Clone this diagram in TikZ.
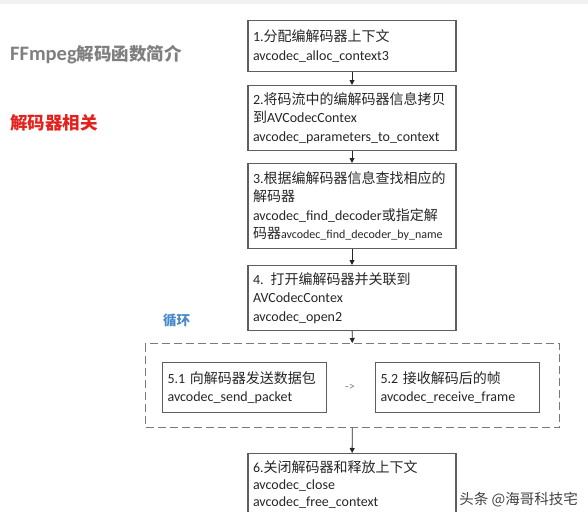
\documentclass[tikz,border=0pt]{standalone}
\usepackage{fontspec}
\setmainfont{Carlito}
\newfontfamily\cjk{Noto Sans CJK SC}
\usetikzlibrary{arrows.meta}
\newcommand\zhtxt[1]{{\cjk #1}}
\definecolor{boxline}{HTML}{5E5E5E}
\definecolor{dashline}{HTML}{7A7A7A}
\definecolor{titlegray}{HTML}{7F7F7F}
\definecolor{redlabel}{HTML}{E3221E}
\definecolor{bluelabel}{HTML}{4A8AC9}
\definecolor{bandgray}{HTML}{F1F1F1}
\begin{document}
\begin{tikzpicture}[x=1pt,y=-1pt,
  stepbox/.style={draw=boxline, line width=1.1pt, anchor=north, text width=198pt,
    align=left, inner xsep=5pt, inner ysep=0pt, text=black!85,
    font=\fontsize{14}{18.5}\selectfont},
  smallbox/.style={draw=boxline, line width=1.1pt, anchor=north west, text width=154pt,
    align=left, inner xsep=5pt, inner ysep=0pt, minimum height=50pt, text=black!85,
    font=\fontsize{14}{18.5}\selectfont},
  loopbox/.style={draw=dashline, line width=1pt, dash pattern=on 8pt off 4pt,
    anchor=north west, minimum width=414pt, minimum height=84pt, inner sep=0pt},
  flow/.style={-{Triangle[length=5pt,width=5pt]}, line width=0.9pt, black!85},
]
\useasboundingbox (0,0) rectangle (588,511);
\fill[bandgray] (0,0) rectangle (588,4);

\node[anchor=west, text=titlegray, inner sep=0pt] (title) at (10,55)
  {\bfseries\fontsize{20.5}{22}\selectfont FFmpeg\zhtxt{\fontsize{17.5}{22}\selectfont 解码函数简介}};
\node[anchor=west, text=redlabel, inner sep=0pt] (dec) at (10,123)
  {\zhtxt{\bfseries\fontsize{17.5}{22}\selectfont 解码器相关}};
\node[anchor=west, text=bluelabel, inner sep=0pt] (loopl) at (163,320)
  {\zhtxt{\bfseries\fontsize{13.5}{16}\selectfont 循环}};

\node[stepbox, minimum height=51pt] (b1) at (352,20)
  {1.\zhtxt{分配编解码器上下文}\\avcodec\_alloc\_context3};
\node[stepbox, minimum height=65pt] (b2) at (352,85)
  {2.\zhtxt{将码流中的编解码器信息拷贝}\\\zhtxt{到}AVCodecContex\\avcodec\_parameters\_to\_context};
\node[stepbox, minimum height=85pt] (b3) at (352,163)
  {3.\zhtxt{根据编解码器信息查找相应的}\\\zhtxt{解码器}\\avcodec\_find\_decoder\zhtxt{或指定解}\\\zhtxt{码器}{\fontsize{12}{18.5}\selectfont avcodec\_find\_decoder\_by\_name}};
\node[stepbox, minimum height=65pt] (b4) at (352,265)
  {4. \zhtxt{打开编解码器并关联到}\\AVCodecContex\\avcodec\_open2};

\node[loopbox] (loop) at (145,343) {};
\node[smallbox] (b51) at (162,362)
  {5.1 \zhtxt{向解码器发送数据包}\\avcodec\_send\_packet};
\node[smallbox] (b52) at (375,362)
  {5.2 \zhtxt{接收解码后的帧}\\avcodec\_receive\_frame};
\node[text=black!50, inner sep=0pt, font=\fontsize{12}{14}\selectfont] (sep) at (350,387) {->};

\node[stepbox, minimum height=62pt, font=\fontsize{14}{17}\selectfont] (b6) at (352,453)
  {6.\zhtxt{关闭解码器和释放上下文}\\avcodec\_close\\avcodec\_free\_context};

\node[anchor=east, text=black!75, inner sep=0pt] (wm) at (578,500)
  {\zhtxt{\fontsize{14.5}{16}\selectfont 头条 @海哥科技宅}};

\draw[flow] (b1) -- (b2);
\draw[flow] (b2) -- (b3);
\draw[flow] (b3) -- (b4);
\draw[flow] (b4) -- (loop);
\draw[flow] (loop) -- (b6);
\end{tikzpicture}
\end{document}
